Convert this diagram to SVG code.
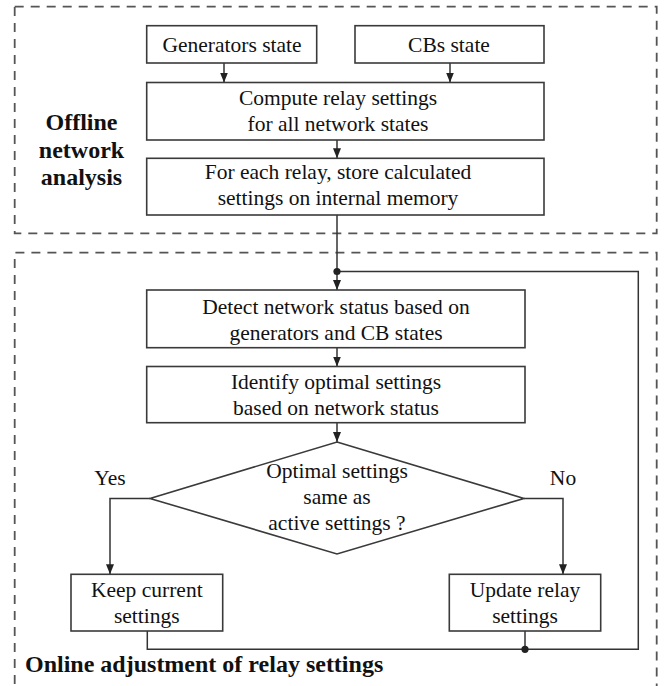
<svg xmlns="http://www.w3.org/2000/svg" width="664" height="686" viewBox="0 0 664 686">
<defs>
<style>
.box{fill:#fff;stroke:#3a3a3a;stroke-width:1.6}
.dash{fill:none;stroke:#555;stroke-width:1.8;stroke-dasharray:9 7}
.ln{fill:none;stroke:#333;stroke-width:1.5}
.t{font-family:"Liberation Serif","Times New Roman",serif;font-size:21.5px;fill:#111;text-anchor:middle}
.b{font-family:"Liberation Serif","Times New Roman",serif;font-size:24px;font-weight:bold;fill:#111}
</style>
<marker id="ah" markerUnits="userSpaceOnUse" markerWidth="10" markerHeight="8" refX="10" refY="4" orient="auto">
<path d="M0,0 L10,4 L0,8 z" fill="#222"/>
</marker>
</defs>
<rect width="664" height="686" fill="#fff"/>
<g id="regions">
<rect class="dash" x="14.7" y="6.7" width="642" height="226.6"/>
<path class="dash" d="M14.7,700 V252.7 H656.7 V700"/>
<text class="b" x="81.5" y="130" text-anchor="middle">Offline</text>
<text class="b" x="81.5" y="157.5" text-anchor="middle">network</text>
<text class="b" x="81.5" y="185" text-anchor="middle">analysis</text>
<text class="b" x="25" y="672">Online adjustment of relay settings</text>
</g>
<g id="connectors">
<path class="ln" d="M224,63 V82.5" marker-end="url(#ah)"/>
<path class="ln" d="M450,63 V82.5" marker-end="url(#ah)"/>
<path class="ln" d="M337,140 V158.3" marker-end="url(#ah)"/>
<path class="ln" d="M337,215 V290" marker-end="url(#ah)"/>
<path class="ln" d="M337,347.7 V366.5" marker-end="url(#ah)"/>
<path class="ln" d="M337,422.7 V442" marker-end="url(#ah)"/>
<path class="ln" d="M150,498.4 H110 V574.3" marker-end="url(#ah)"/>
<path class="ln" d="M524,498.4 H563 V574.3" marker-end="url(#ah)"/>
<path class="ln" d="M147.3,631 V649.3 H638.3 V271.5 H337"/>
<path class="ln" d="M525,631 V649.3"/>
<circle cx="525" cy="649.3" r="3.6" fill="#222"/>
<circle cx="337" cy="271.5" r="3.6" fill="#222"/>
<text class="t" x="110" y="485">Yes</text>
<text class="t" x="563" y="485">No</text>
</g>
<g id="gen">
<rect class="box" x="146.7" y="25.7" width="170" height="37.3"/>
<text class="t" x="232" y="51.7">Generators state</text>
</g>
<g id="cbs">
<rect class="box" x="355" y="25.7" width="189" height="37.3"/>
<text class="t" x="449" y="51.7">CBs state</text>
</g>
<g id="compute">
<rect class="box" x="146.7" y="82.5" width="397.3" height="57.5"/>
<text class="t" x="338" y="105.3">Compute relay settings</text>
<text class="t" x="338" y="131.3">for all network states</text>
</g>
<g id="store">
<rect class="box" x="146.7" y="158.3" width="397.3" height="56.7"/>
<text class="t" x="338" y="178.5">For each relay, store calculated</text>
<text class="t" x="338" y="204.5">settings on internal memory</text>
</g>
<g id="detect">
<rect class="box" x="146.7" y="290" width="378.3" height="57.7"/>
<text class="t" x="336" y="314">Detect network status based on</text>
<text class="t" x="336" y="340">generators and CB states</text>
</g>
<g id="identify">
<rect class="box" x="146.7" y="366.5" width="378.3" height="56.2"/>
<text class="t" x="336" y="389">Identify optimal settings</text>
<text class="t" x="336" y="415">based on network status</text>
</g>
<g id="decision">
<polygon class="box" points="337,442 524,498.4 337,554 150,498.4"/>
<text class="t" x="337" y="478">Optimal settings</text>
<text class="t" x="337" y="504">same as</text>
<text class="t" x="337" y="530">active settings ?</text>
</g>
<g id="keep">
<rect class="box" x="71" y="574.3" width="151.7" height="56.7"/>
<text class="t" x="146.8" y="597">Keep current</text>
<text class="t" x="146.8" y="623">settings</text>
</g>
<g id="update">
<rect class="box" x="449.3" y="574.3" width="151.4" height="56.7"/>
<text class="t" x="525" y="597">Update relay</text>
<text class="t" x="525" y="623">settings</text>
</g>
</svg>
